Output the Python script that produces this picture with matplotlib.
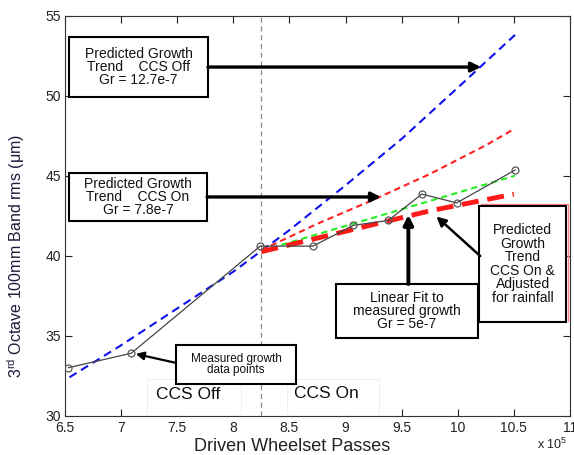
import matplotlib
matplotlib.use("Agg")
import matplotlib.pyplot as plt
from matplotlib.patches import Rectangle

plt.rcParams["font.family"] = ["Liberation Sans", "DejaVu Sans"]
plt.rcParams["mathtext.fontset"] = "custom"
plt.rcParams["mathtext.rm"] = "Liberation Sans"

# measured growth data points
passes = [6.53, 7.09, 8.24, 8.71, 9.07, 9.38, 9.68, 9.99, 10.51]
measured = [33.0, 33.9, 40.6, 40.6, 41.9, 42.2, 43.85, 43.3, 45.35]

# predicted trend, CCS off
off_x = [6.54, 7.0, 7.5, 8.0, 8.5, 9.0, 9.5, 10.0, 10.51]
off_y = [32.4, 34.4, 36.7, 39.0, 41.6, 44.4, 47.3, 50.5, 53.8]

# predicted trend, CCS on
on_x = [8.25, 8.75, 9.25, 9.75, 10.25, 10.51]
on_y = [40.35, 42.0, 43.5, 45.1, 46.9, 47.95]

# linear fit to measured growth
fit_x = [8.25, 10.51]
fit_y = [40.3, 45.0]

# predicted trend, CCS on and adjusted for rainfall
rain_x = [8.25, 8.75, 9.25, 9.75, 10.25, 10.5]
rain_y = [40.25, 41.1, 41.95, 42.8, 43.5, 43.85]

ccs_switch = 8.25

fig = plt.figure(figsize=(5.74, 4.55), dpi=100)
ax = fig.add_axes([0.1132, 0.0864, 0.8798, 0.8791])

ax.axvline(ccs_switch, color="#888888", ls=(0, (4, 3)), lw=0.9, zorder=1)

ax.plot(off_x, off_y, color="#1010ee", ls=(0, (4, 2.5)), lw=1.5, zorder=3)
ax.plot(on_x, on_y, color="#ff2020", ls=(0, (3, 2)), lw=1.5, zorder=3)
ax.plot(fit_x, fit_y, color="#22ee22", ls=(0, (3, 2)), lw=1.5, zorder=3)
ax.plot(rain_x, rain_y, color="#ff1a1a", ls=(0, (3.5, 1.8)), lw=3.5, zorder=4)
ax.plot(passes, measured, color="#444444", lw=0.9, marker="o", ms=5,
        mfc="none", mec="#555555", mew=0.9, zorder=5)

ax.set_xlim(6.5, 11)
ax.set_ylim(30, 55)
ax.set_xticks([6.5, 7, 7.5, 8, 8.5, 9, 9.5, 10, 10.5, 11])
ax.set_xticklabels(["6.5", "7", "7.5", "8", "8.5", "9", "9.5", "10", "10.5", "11"])
ax.set_yticks([30, 35, 40, 45, 50, 55])
ax.tick_params(direction="in", top=True, right=True, length=5, width=0.8,
               labelsize=10, colors="#222222", pad=3)
ax.tick_params(axis="x", pad=4)
for s in ax.spines.values():
    s.set_linewidth(0.8)
    s.set_color("#333333")

ax.set_xlabel("Driven Wheelset Passes", fontsize=13, color="#222222")
ax.xaxis.set_label_coords(0.45, -0.055)
ax.set_ylabel("3$^{\\mathrm{rd}}$ Octave 100mm Band rms (\u03bcm)", fontsize=11.5,
              color="#1a1a3a")
ax.yaxis.set_label_coords(-0.075, 0.40)
ax.text(0.995, -0.073, "x 10$^5$", transform=ax.transAxes, fontsize=9,
        ha="right", va="center", color="#222222")


def box(x0, y0, x1, y1, text, size, lw=1.5, ec="black", tc="#111111"):
    ax.add_patch(Rectangle((x0, y0), x1 - x0, y1 - y0, fill=True, fc="white",
                           ec=ec, lw=lw, zorder=6))
    if text:
        ax.text((x0 + x1) / 2, (y0 + y1) / 2, text, ha="center", va="center",
                fontsize=size, color=tc, linespacing=0.95, zorder=7)


def arrow(x0, y0, x1, y1, lw=2.0, ms=14):
    ax.annotate("", xy=(x1, y1), xytext=(x0, y0),
                arrowprops=dict(arrowstyle="-|>", color="black", lw=lw,
                                mutation_scale=ms, shrinkA=0, shrinkB=0),
                zorder=8)


# CCS region labels
box(7.23, 30.04, 8.07, 32.3, "", 12, lw=0.6, ec="#eeeeee")
ax.text(7.6, 31.3, "CCS Off", fontsize=12.5, ha="center", va="center",
        color="#111111", zorder=7)
box(8.48, 30.04, 9.3, 32.3, "", 12, lw=0.6, ec="#eeeeee")
ax.text(8.83, 31.4, "CCS On", fontsize=12.5, ha="center", va="center",
        color="#111111", zorder=7)

# annotation boxes
box(6.536, 49.92, 7.774, 53.67, "Predicted Growth\nTrend    CCS Off\nGr = 12.7e-7", 10)
arrow(7.774, 51.79, 10.207, 51.79, lw=2.4)

box(6.536, 42.17, 7.766, 45.17, "Predicted Growth\nTrend    CCS On\nGr = 7.8e-7", 10)
arrow(7.766, 43.67, 9.316, 43.67, lw=2.4)

box(7.49, 31.98, 8.56, 34.42, "Measured growth\ndata points", 8.5)
arrow(7.49, 33.3, 7.13, 33.86, lw=1.6, ms=12)

box(8.915, 34.86, 10.18, 38.23, "Linear Fit to\nmeasured growth\nGr = 5e-7", 10)
arrow(9.56, 38.23, 9.56, 42.55, lw=2.8)

ax.plot([10.21, 10.985, 10.985], [43.2, 43.2, 35.9], color="#ff8080", lw=1.0,
        zorder=5.5)
box(10.19, 35.85, 10.965, 43.1,
    "Predicted\nGrowth\nTrend\nCCS On &\nAdjusted\nfor rainfall", 10)
arrow(10.2, 39.98, 9.81, 42.45, lw=1.8)

fig.savefig("out.png", dpi=100)
